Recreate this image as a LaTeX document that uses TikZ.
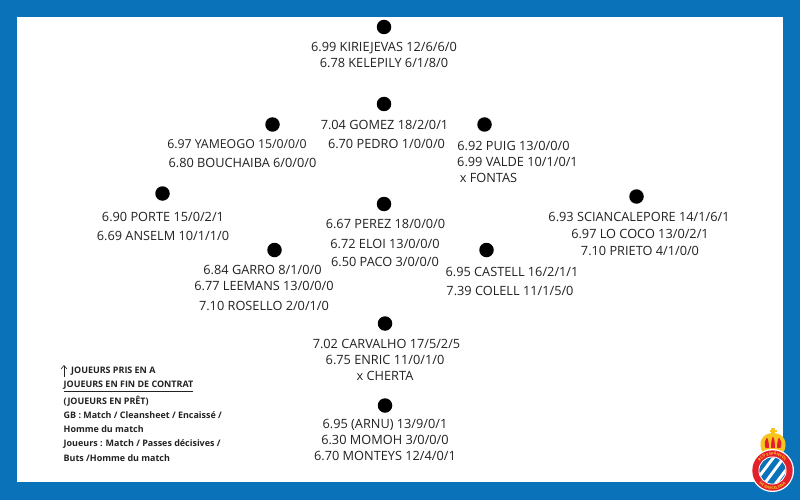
\documentclass[tikz,border=0pt]{standalone}
\usepackage{fontspec}
\setmainfont{Open Sans}
\usetikzlibrary{decorations.text,arrows.meta}
\definecolor{frameblue}{HTML}{0A72B9}
\definecolor{txt}{HTML}{222222}
\definecolor{crest}{HTML}{E2202C}
\definecolor{crown}{HTML}{F7C51E}
\tikzset{
  x=1pt,y=-1pt,
  dot/.style={circle,fill=black,draw=none,inner sep=0pt,minimum size=14.5pt},
  lab/.style={text=txt,font=\fontsize{12.75}{12.75}\selectfont,inner sep=0pt,anchor=center,yshift=-0.7pt},
  leg/.style={text=txt,font=\fontsize{8.95}{8.95}\selectfont\bfseries,inner sep=0pt,anchor=west,yshift=-0.7pt},
}
\begin{document}
\begin{tikzpicture}
\useasboundingbox (0,0) rectangle (800,500);
\fill[frameblue] (0,0) rectangle (800,500);
\fill[white] (17,17) rectangle (783,482);
% dots
\node[dot] (d1) at (384,27) {};
\node[dot] (d2) at (384,104) {};
\node[dot] (d3) at (272.5,124.5) {};
\node[dot] (d4) at (484.5,124.5) {};
\node[dot] (d5) at (162.5,193.5) {};
\node[dot] (d6) at (636.5,196.5) {};
\node[dot] (d7) at (384,204) {};
\node[dot] (d8) at (274.5,250) {};
\node[dot] (d9) at (486.5,250) {};
\node[dot] (d10) at (385,323.5) {};
\node[dot] (d11) at (385,405.5) {};
% labels
\node[lab] (a1) at (384,47) {6.99 KIRIEJEVAS 12/6/6/0};
\node[lab] (a2) at (384,62) {6.78 KELEPILY 6/1/8/0};
\node[lab] (b1) at (384.5,124.5) {7.04 GOMEZ 18/2/0/1};
\node[lab] (b2) at (386.5,143) {6.70 PEDRO 1/0/0/0};
\node[lab,font=\fontsize{12.3}{12.3}\selectfont] (c1) at (237,143.5) {6.97 YAMEOGO 15/0/0/0};
\node[lab] (c2) at (242.5,162) {6.80 BOUCHAIBA 6/0/0/0};
\node[lab] (e1) at (513.5,145) {6.92 PUIG 13/0/0/0};
\node[lab] (e2) at (517.5,161) {6.99 VALDE 10/1/0/1};
\node[lab] (e3) at (488.5,177) {x FONTAS};
\node[lab] (f1) at (163,216) {6.90 PORTE 15/0/2/1};
\node[lab] (f2) at (163,235) {6.69 ANSELM 10/1/1/0};
\node[lab] (g1) at (639,216) {6.93 SCIANCALEPORE 14/1/6/1};
\node[lab] (g2) at (640,233) {6.97 LO COCO 13/0/2/1};
\node[lab] (g3) at (640,250) {7.10 PRIETO 4/1/0/0};
\node[lab] (h1) at (385.5,223) {6.67 PEREZ 18/0/0/0};
\node[lab] (h2) at (385,243) {6.72 ELOI 13/0/0/0};
\node[lab] (h3) at (385,261) {6.50 PACO 3/0/0/0};
\node[lab] (i1) at (262.5,269) {6.84 GARRO 8/1/0/0};
\node[lab] (i2) at (264,285) {6.77 LEEMANS 13/0/0/0};
\node[lab] (i3) at (264,305) {7.10 ROSELLO 2/0/1/0};
\node[lab] (j1) at (512,271) {6.95 CASTELL 16/2/1/1};
\node[lab] (j2) at (510,290) {7.39 COLELL 11/1/5/0};
\node[lab] (k1) at (386.5,343) {7.02 CARVALHO 17/5/2/5};
\node[lab] (k2) at (385,359) {6.75 ENRIC 11/0/1/0};
\node[lab] (k3) at (385,375) {x CHERTA};
\node[lab] (l1) at (385,424) {6.95 (ARNU) 13/9/0/1};
\node[lab] (l2) at (385,439) {6.30 MOMOH 3/0/0/0};
\node[lab] (l3) at (385,455) {6.70 MONTEYS 12/4/0/1};
% legend
\coordinate (ar0) at (64,377);
\coordinate (ar1) at (64,365);
\draw[txt,line width=0.6pt,-{Straight Barb[length=3.5pt,width=6pt]}] (ar0) -- (ar1);
\node[leg] (m1) at (71,370.5) {JOUEURS PRIS EN A};
\node[leg] (m2) at (63.5,385.5) {\underline{JOUEURS EN FIN DE CONTRAT}};
\node[leg] (m3) at (63.5,400.5) {(JOUEURS EN PRÊT)};
\node[leg] (m4) at (63.5,414.5) {GB : Match / Cleansheet / Encaissé /};
\node[leg] (m5) at (63.5,428) {Homme du match};
\node[leg] (m6) at (63.5,443.5) {Joueurs : Match / Passes décisives /};
\node[leg] (m7) at (63.5,457) {Buts /Homme du match};
% crest
\begin{scope}[shift={(1,0)}]
\fill[crown] (770.2,428) rectangle (773.8,433);
\fill[crown] (768.5,429.5) rectangle (775.5,431.5);
\fill[crown] (762,453) .. controls (756,443) and (761,433) .. (772,433) .. controls (783,433) and (788,443) .. (782,453) -- cycle;
\fill[crest] (764.5,448) .. controls (763,443) and (763.5,440) .. (766,437.5) .. controls (767.5,440) and (768,444) .. (768,448) -- cycle;
\fill[crest] (770,448) .. controls (770,443) and (770.5,439) .. (772,436.5) .. controls (773.5,439) and (774,443) .. (774,448) -- cycle;
\fill[crest] (776,448) .. controls (776,444) and (776.5,440) .. (778,437.5) .. controls (780.5,440) and (781,443) .. (779.5,448) -- cycle;
\end{scope}
\fill[white] (772.5,470.5) circle (21.5pt);
\fill[crest] (772.5,470.5) circle (20.2pt);
\begin{scope}
\clip (772.5,470.5) circle (13.2pt);
\fill[frameblue] (755,454) rectangle (790,488);
\draw[white,line width=2.9pt] (755,482) -- (777,453);
\draw[white,line width=2.9pt] (762,487) -- (785,456);
\draw[white,line width=2.9pt] (770,491) -- (792,462);
\end{scope}
\draw[white,line width=0.8pt] (772.5,470.5) circle (13.6pt);
\path[postaction={decorate,decoration={text along path,text align=center,
  text={|\fontsize{3.9}{4}\selectfont\bfseries\color{crown}|RCD ESPANYOL}}}]
  (757,470.5) arc[start angle=180,end angle=0,radius=15.5pt];
\path[postaction={decorate,decoration={text along path,text align=center,
  text={|\fontsize{3.9}{4}\selectfont\bfseries\color{crown}|DE BARCELONA}}}]
  (753.5,470.5) arc[start angle=180,end angle=360,radius=19pt];
\end{tikzpicture}
\end{document}
